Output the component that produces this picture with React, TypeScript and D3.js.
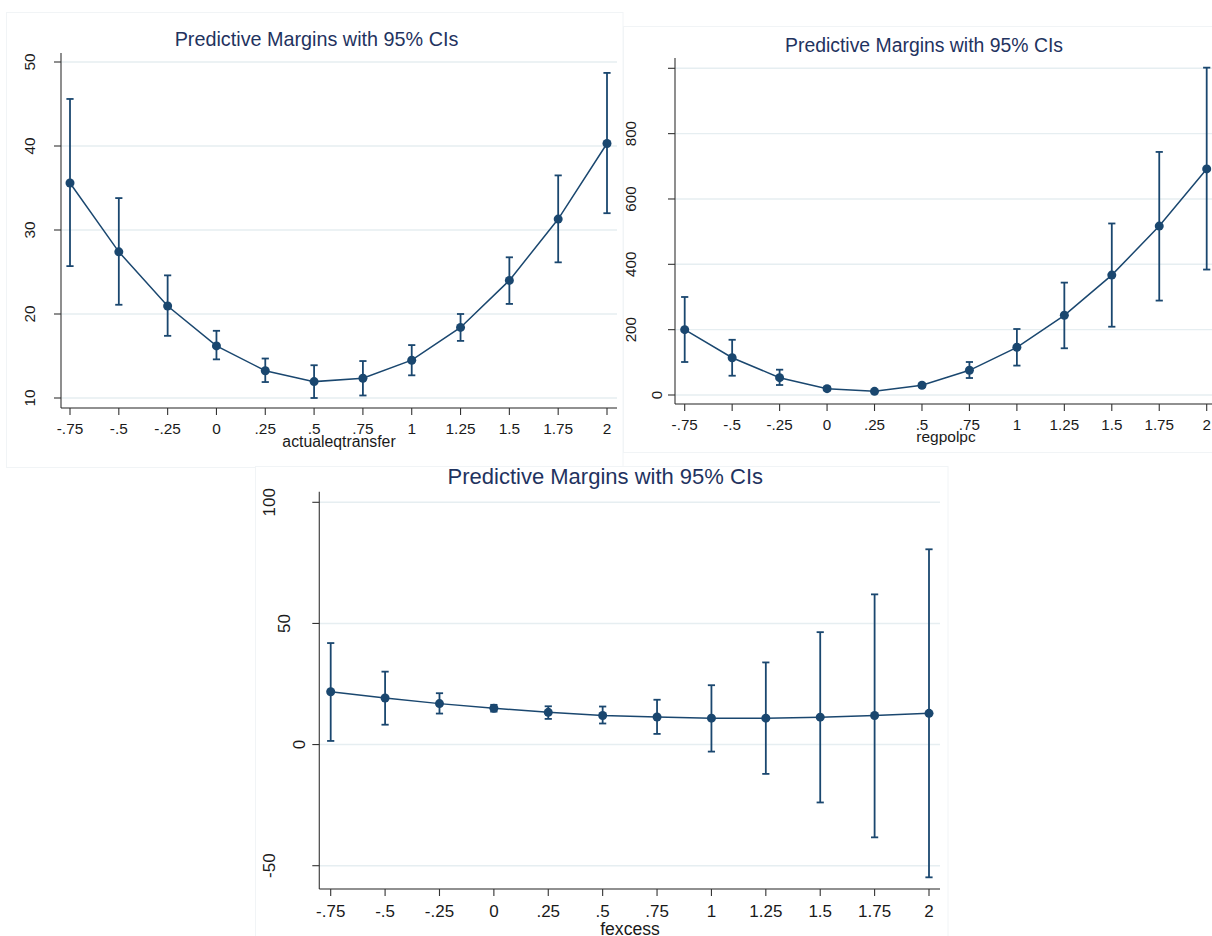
import React from "react";
import * as d3 from "d3";

// x values shared by all three panels
const xValues = [-0.75, -0.5, -0.25, 0, 0.25, 0.5, 0.75, 1, 1.25, 1.5, 1.75, 2];
const xTickLabels = ["-.75", "-.5", "-.25", "0", ".25", ".5", ".75", "1", "1.25", "1.5", "1.75", "2"];

// panel 1: actualeqtransfer
const transferMargin = [35.6, 27.4, 20.95, 16.2, 13.25, 11.95, 12.35, 14.5, 18.4, 24.0, 31.3, 40.3];
const transferLow = [25.7, 21.1, 17.4, 14.6, 11.9, 10.0, 10.3, 12.7, 16.8, 21.2, 26.15, 32.0];
const transferHigh = [45.6, 33.8, 24.6, 18.0, 14.7, 13.9, 14.4, 16.3, 20.0, 26.75, 36.5, 48.7];
const transferTicks = [10, 20, 30, 40, 50];
const transferTickLabels = ["10", "20", "30", "40", "50"];

// panel 2: regpolpc
const regpolMargin = [200, 114, 53, 19.4, 11.2, 29.7, 75.6, 146, 244, 367, 517, 692];
const regpolLow = [101, 59, 30.6, 14, 7, 24, 52, 90, 143, 209, 289, 384];
const regpolHigh = [300, 169, 77.5, 25, 15, 35, 101, 202, 344, 525, 744, 1002];
const regpolTicks = [0, 200, 400, 600, 800, 1000];
const regpolTickLabels = ["0", "200", "400", "600", "800", ""];

// panel 3: fexcess
const fexcessMargin = [21.8, 19.2, 16.9, 15.0, 13.3, 12.0, 11.4, 10.9, 10.9, 11.3, 12.0, 12.9];
const fexcessLow = [1.5, 8.2, 12.8, 13.6, 10.6, 8.7, 4.4, -2.9, -12.1, -23.9, -38.3, -54.8];
const fexcessHigh = [41.9, 30.1, 21.2, 16.4, 15.8, 15.7, 18.5, 24.5, 33.9, 46.4, 62.0, 80.6];
const fexcessTicks = [-50, 0, 50, 100];
const fexcessTickLabels = ["-50", "0", "50", "100"];

const TITLE = "Predictive Margins with 95% CIs";
const NAVY = "#1a476f";
const TITLE_COLOR = "#1f3360";
const GRID = "#e6eef1";
const FONT = "'Liberation Sans', Arial, Helvetica, sans-serif";

type Box = { x: number; y: number; w: number; h: number };

type PanelProps = {
  box: Box;
  plot: { x0: number; x1: number; y0: number; y1: number };
  xRange: [number, number];
  yDomain: [number, number];
  yRange: [number, number];
  yTicks: number[];
  yLabels: string[];
  margin: number[];
  low: number[];
  high: number[];
  titleX: number;
  titleY: number;
  titleSize: number;
  xTitle: string;
  xTitleX: number;
  xTitleY: number;
  xTitleSize: number;
  tickSize: number;
  tickLabelY: number;
};

const Panel = (p: PanelProps) => {
  const x = d3.scaleLinear().domain([-0.75, 2]).range(p.xRange);
  const y = d3.scaleLinear().domain(p.yDomain).range(p.yRange);
  const pts = xValues.map((v, i) => [x(v), y(p.margin[i])] as [number, number]);
  const line = d3.line()(pts) || "";
  const cap = 3.6;

  return (
    <g>
      <rect x={p.box.x} y={p.box.y} width={p.box.w} height={p.box.h} fill="#fff" stroke="#f1f4f6" strokeWidth={1} />
      <text x={p.titleX} y={p.titleY} textAnchor="middle" fontSize={p.titleSize} fill={TITLE_COLOR} fontFamily={FONT}>
        {TITLE}
      </text>

      {/* grid */}
      {p.yTicks.map((t) => (
        <line key={"g" + t} x1={p.plot.x0} x2={p.plot.x1} y1={y(t)} y2={y(t)} stroke={GRID} strokeWidth={1.4} />
      ))}

      {/* axes */}
      <line x1={p.plot.x0} x2={p.plot.x0} y1={p.plot.y0} y2={p.plot.y1} stroke="#444" strokeWidth={1.2} />
      <line x1={p.plot.x0} x2={p.plot.x1} y1={p.plot.y1} y2={p.plot.y1} stroke="#222" strokeWidth={1.2} />

      {p.yTicks.map((t, i) => {
        const lab = p.yLabels[i];
        const bx = p.plot.x0 - 0.86 * p.tickSize * lab.length;
        return (
          <g key={"yt" + t}>
            <line x1={p.plot.x0 - 7} x2={p.plot.x0} y1={y(t)} y2={y(t)} stroke="#333" strokeWidth={1.1} />
            {lab && (
              <text
                transform={`translate(${bx},${y(t)}) rotate(-90)`}
                textAnchor="middle"
                fontSize={p.tickSize}
                fill="#1a1a1a"
                fontFamily={FONT}
              >
                {lab}
              </text>
            )}
          </g>
        );
      })}

      {xValues.map((v, i) => (
        <g key={"xt" + v}>
          <line x1={x(v)} x2={x(v)} y1={p.plot.y1} y2={p.plot.y1 + 7} stroke="#333" strokeWidth={1.1} />
          <text x={x(v)} y={p.tickLabelY} textAnchor="middle" fontSize={p.tickSize} fill="#1a1a1a" fontFamily={FONT}>
            {xTickLabels[i]}
          </text>
        </g>
      ))}

      <text x={p.xTitleX} y={p.xTitleY} textAnchor="middle" fontSize={p.xTitleSize} fill="#1a1a1a" fontFamily={FONT}>
        {p.xTitle}
      </text>

      {/* confidence intervals */}
      {xValues.map((v, i) => {
        const cx = x(v);
        const yl = y(p.low[i]);
        const yh = y(p.high[i]);
        return (
          <g key={"ci" + v} stroke={NAVY} strokeWidth={1.8}>
            <line x1={cx} x2={cx} y1={yl} y2={yh} />
            <line x1={cx - cap} x2={cx + cap} y1={yl} y2={yl} />
            <line x1={cx - cap} x2={cx + cap} y1={yh} y2={yh} />
          </g>
        );
      })}

      <path d={line} fill="none" stroke={NAVY} strokeWidth={1.5} />
      {pts.map((d, i) => (
        <circle key={"pt" + i} cx={d[0]} cy={d[1]} r={4.5} fill={NAVY} />
      ))}
    </g>
  );
};

const App = () => {
  return (
    <svg
      width={1212}
      height={936}
      style={{ position: "absolute", left: 0, top: 0, display: "block", background: "#fff" }}
    >
      <Panel
        box={{ x: 6.5, y: 12.5, w: 616.5, h: 455 }}
        plot={{ x0: 61, x1: 617, y0: 53, y1: 408 }}
        xRange={[70, 607]}
        yDomain={[10, 50]}
        yRange={[398, 62]}
        yTicks={transferTicks}
        yLabels={transferTickLabels}
        margin={transferMargin}
        low={transferLow}
        high={transferHigh}
        titleX={316.5}
        titleY={46}
        titleSize={19.8}
        xTitle="actualeqtransfer"
        xTitleX={339}
        xTitleY={447}
        xTitleSize={15.8}
        tickSize={15.4}
        tickLabelY={434}
      />
      <Panel
        box={{ x: 623.5, y: 26.5, w: 600, h: 426 }}
        plot={{ x0: 675, x1: 1212, y0: 58, y1: 404 }}
        xRange={[684.7, 1206.7]}
        yDomain={[0, 1000]}
        yRange={[395, 68.3]}
        yTicks={regpolTicks}
        yLabels={regpolTickLabels}
        margin={regpolMargin}
        low={regpolLow}
        high={regpolHigh}
        titleX={924}
        titleY={51.7}
        titleSize={19.4}
        xTitle="regpolpc"
        xTitleX={946}
        xTitleY={442}
        xTitleSize={15.5}
        tickSize={15.2}
        tickLabelY={429.5}
      />
      <Panel
        box={{ x: 255.5, y: 466.5, w: 692.5, h: 480 }}
        plot={{ x0: 319.3, x1: 940, y0: 491.7, y1: 889 }}
        xRange={[330.7, 929]}
        yDomain={[-50, 100]}
        yRange={[865.7, 502.3]}
        yTicks={fexcessTicks}
        yLabels={fexcessTickLabels}
        margin={fexcessMargin}
        low={fexcessLow}
        high={fexcessHigh}
        titleX={605.3}
        titleY={484.3}
        titleSize={22}
        xTitle="fexcess"
        xTitleX={630}
        xTitleY={934.5}
        xTitleSize={17.6}
        tickSize={17}
        tickLabelY={917}
      />
    </svg>
  );
};

export default App;
